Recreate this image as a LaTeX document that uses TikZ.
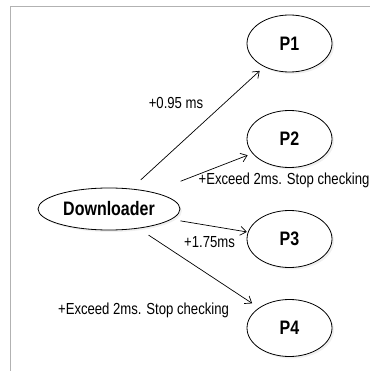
\documentclass[tikz,border=0pt]{standalone}
\usepackage{fontspec}
\usetikzlibrary{shapes.geometric,arrows.meta,shadows}
\newfontfamily\narrowsans{Liberation Sans}[FakeStretch=0.82]
\begin{document}
\begin{tikzpicture}[x=1pt,y=-1pt,
  proc/.style={ellipse, draw=black, line width=0.8pt, fill=white,
    inner sep=0pt, minimum width=85pt, minimum height=57pt,
    drop shadow={shadow xshift=2pt, shadow yshift=-2pt, opacity=0.12},
    font=\narrowsans\bfseries\fontsize{19.5pt}{22pt}\selectfont},
  source/.style={proc, minimum width=142pt, minimum height=42pt},
  lbl/.style={inner sep=0pt, font=\narrowsans\fontsize{16pt}{18pt}\selectfont},
  link/.style={draw=black, line width=0.7pt,
    -{Straight Barb[length=6pt,width=9pt,line width=0.7pt]}}]
  \useasboundingbox (0,0) rectangle (370,371);
  % frame edges
  \draw[black!30, line width=1.2pt] (10.5,371) -- (10.5,6.5) -- (370,6.5);

  % nodes
  \node[source] (D)  at (109,209)   {Downloader};
  \node[proc]   (P1) at (289.5,43.5) {P1};
  \node[proc]   (P2) at (289.5,139)  {P2};
  \node[proc]   (P3) at (289.5,239)  {P3};
  \node[proc]   (P4) at (289.5,328)  {P4};

  % connectors
  \draw[link, shorten <=13pt, shorten >=6pt] (D) -- (P1);
  \draw[link, shorten <=30pt, shorten >=5pt] (D) -- (P2);
  \draw[link, shorten <=9pt,  shorten >=1pt] (D) -- (P3);
  \draw[link, shorten <=12pt, shorten >=8pt] (D) -- (P4);

  % timing labels
  \node[lbl] (l1) at (176,103)   {+0.95 ms};
  \node[lbl] (l2) at (284,180)   {+Exceed 2ms. Stop checking};
  \node[lbl] (l3) at (209.5,242) {+1.75ms};
  \node[lbl] (l4) at (143.5,310) {+Exceed 2ms. Stop checking};
\end{tikzpicture}
\end{document}
